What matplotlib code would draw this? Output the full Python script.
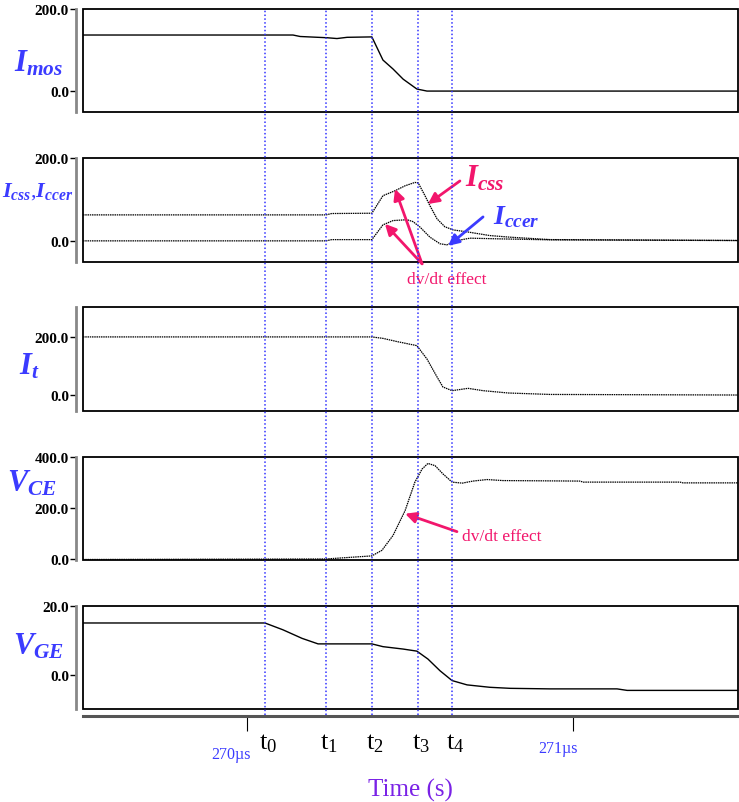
import matplotlib
matplotlib.use('Agg')
import matplotlib.pyplot as plt
from matplotlib.patches import Rectangle

plt.rcParams['font.family'] = ['Liberation Serif', 'DejaVu Serif']
plt.rcParams['mathtext.fontset'] = 'custom'
plt.rcParams['mathtext.it'] = 'Liberation Serif:italic:bold'
plt.rcParams['mathtext.rm'] = 'Liberation Serif'

# time in microseconds
t_events = [270.055, 270.242, 270.383, 270.525, 270.629]
t_names = ['0', '1', '2', '3', '4']

t_mos = [269.497, 270.141, 270.163, 270.245, 270.276, 270.307, 270.383, 270.417,
         270.448, 270.479, 270.521, 270.552, 271.506]
i_mos = [136.6, 136.6, 133, 130, 128, 131, 132, 75.6, 53.7, 29, 5, 0, 0]

t_css = [269.497, 270.242, 270.26, 270.383, 270.417, 270.454, 270.485, 270.515, 270.525,
         270.546, 270.561, 270.583, 270.607, 270.632, 270.675, 270.745, 270.807,
         270.929, 271.506]
i_css = [62.7, 62.7, 66, 66.7, 109, 121, 133, 141, 140, 109, 85, 53, 34, 26.5, 21.7,
         12.8, 8.9, 3.1, 1.0]

t_ccer = [269.497, 270.242, 270.26, 270.383, 270.417, 270.448, 270.491, 270.509, 270.531,
          270.561, 270.592, 270.613, 270.644, 270.684, 270.776, 270.929, 271.506]
i_ccer = [0, 0, 3, 3, 38.6, 49, 51, 46.5, 33, 9, -7, -9.6, 0.7, 6.5, 4.8, 2.5, 0.7]

t_it = [269.497, 270.383, 270.417, 270.460, 270.521, 270.552, 270.583, 270.601, 270.629,
        270.678, 270.724, 270.801, 270.929, 271.506]
i_t = [200, 200, 195, 184, 170, 124, 62, 27.6, 15, 23, 15, 7, 2, 0]

t_vce = [269.497, 270.242, 270.383, 270.414, 270.448, 270.485, 270.515, 270.537, 270.555,
         270.577, 270.601, 270.629, 270.660, 270.693, 270.736, 270.785, 271.021, 271.031,
         271.328, 271.337, 271.506]
v_ce = [0, 2, 14, 36, 94, 191, 302, 353, 375, 366, 334, 302, 298, 306, 312, 308, 306,
        302, 302, 299, 299]

t_vge = [269.497, 270.055, 270.110, 270.169, 270.218, 270.242, 270.383, 270.417, 270.479,
         270.521, 270.555, 270.592, 270.629, 270.675, 270.745, 270.807, 270.929, 271.135,
         271.166, 271.506]
v_ge = [15.07, 15.07, 13.1, 10.6, 9.0, 9.0, 9.0, 8.2, 7.5, 6.9, 4.6, 1.2, -1.65, -2.9,
        -3.6, -3.9, -4.06, -4.06, -4.5, -4.5]

xlim = (269.497, 271.506)
W, H = 739, 803
pink = '#f2166c'
blue = '#3b3bff'
dotted = (0, (1.2, 0.6))

fig = plt.figure(figsize=(W / 100, H / 100), dpi=100)


def fx(x):
    return x / W


def fy(y):
    return 1 - y / H


def panel(top, bottom, ylim, ticks, fmt='%.1f'):
    ax = fig.add_axes([fx(83), fy(bottom), fx(738) - fx(83), (bottom - top) / H])
    ax.set_xlim(*xlim)
    ax.set_ylim(*ylim)
    for s in ['top', 'right', 'bottom']:
        ax.spines[s].set_visible(False)
    ax.spines['left'].set_position(('outward', 5))
    ax.spines['left'].set_color('#888888')
    ax.spines['left'].set_linewidth(2)
    ax.add_patch(Rectangle((0, 0), 1, 1, transform=ax.transAxes, fill=False,
                           ec='black', lw=1.3, clip_on=False, zorder=3))
    ax.set_xticks([])
    ax.set_yticks(ticks)
    ax.set_yticklabels([fmt % v for v in ticks], fontsize=11, fontweight='bold')
    ax.tick_params(axis='y', length=4, width=1, pad=1)
    ax.patch.set_alpha(0)
    return ax


ax1 = panel(10, 113, (-51, 200), [0, 200])
ax1.plot(t_mos, i_mos, color='black', lw=1)

ax2 = panel(159, 263, (-51, 200), [0, 200])
ax2.plot(t_css, i_css, color='black', lw=0.9, ls=dotted)
ax2.plot(t_ccer, i_ccer, color='black', lw=0.9, ls=dotted)

ax3 = panel(308, 412, (-55, 303), [0, 200])
ax3.plot(t_it, i_t, color='black', lw=0.9, ls=dotted)

ax4 = panel(458, 561, (-2, 400), [0, 200, 400])
ax4.plot(t_vce, v_ce, color='black', lw=0.9, ls=dotted)

ax5 = panel(607, 710, (-9.9, 20), [0, 20])
ax5.plot(t_vge, v_ge, color='black', lw=1)

# annotations
arrow = dict(arrowstyle='-|>', color=pink, lw=2, mutation_scale=16, shrinkA=0, shrinkB=0)
ax2.annotate('', xy=(270.555, 89), xytext=(270.653, 144.6), arrowprops=arrow,
             annotation_clip=False)
ax2.text(270.669, 152, r'$I_{css}$', color=pink, fontsize=22, va='center', ha='left',
         clip_on=False)
ax2.annotate('', xy=(270.617, -12), xytext=(270.724, 57.8),
             arrowprops=dict(arrow, color=blue), annotation_clip=False)
ax2.text(270.755, 60, r'$I_{ccer}$', color=blue, fontsize=20, va='center', ha='left',
         clip_on=False)
ax2.annotate('', xy=(270.454, 125.3), xytext=(270.537, -55.4), arrowprops=arrow,
             annotation_clip=False)
ax2.annotate('', xy=(270.423, 41), xytext=(270.537, -55.4), arrowprops=arrow,
             annotation_clip=False)
ax2.text(270.613, -91, 'dv/dt effect', color=pink, fontsize=12.5, ha='center', va='center',
         clip_on=False)

ax4.annotate('', xy=(270.485, 178.6), xytext=(270.644, 108.7), arrowprops=arrow,
             annotation_clip=False)
ax4.text(270.660, 93, 'dv/dt effect', color=pink, fontsize=12.5, ha='left', va='center',
         clip_on=False)

# y labels
ylab = dict(color=blue, ha='left', va='center')
fig.text(fx(14), fy(64), r'$I_{mos}$', fontsize=22, **ylab)
fig.text(fx(2), fy(192), r'$I_{css}{,}I_{ccer}$', fontsize=16, **ylab)
fig.text(fx(19), fy(367), r'$I_t$', fontsize=22, **ylab)
fig.text(fx(7), fy(484), r'$V_{CE}$', fontsize=22, **ylab)
fig.text(fx(13), fy(647), r'$V_{GE}$', fontsize=22, **ylab)

# time axis
axt = fig.add_axes([fx(83), fy(717), fx(738) - fx(83), 1 / H])
axt.set_xlim(*xlim)
axt.set_ylim(0, 1)
for s in ['top', 'right', 'left']:
    axt.spines[s].set_visible(False)
axt.spines['bottom'].set_linewidth(2.2)
axt.spines['bottom'].set_color('#555555')
axt.set_yticks([])
axt.set_xticks([270, 271])
axt.set_xticklabels([])
axt.tick_params(axis='x', length=11, width=0.8, direction='out')
axt.patch.set_alpha(0)
axt.text(270.012, -38, '270\u00b5s', color=blue, fontsize=11.5, ha='right', va='center',
         transform=axt.get_xaxis_transform())
axt.text(271.016, -32, '271\u00b5s', color=blue, fontsize=11.5, ha='right', va='center',
         transform=axt.get_xaxis_transform())
for t, n in zip(t_events, t_names):
    axt.text(t + 0.01, -27, r'$\mathrm{t}_{\mathrm{%s}}$' % n, fontsize=19, ha='center',
             va='center', transform=axt.get_xaxis_transform())
fig.text(fx(410), fy(790), 'Time (s)', color='#7a22e6', fontsize=18, ha='center',
         va='center')

# event lines across all panels
axv = fig.add_axes([fx(83), fy(716), fx(738) - fx(83), (716 - 10) / H])
axv.set_xlim(*xlim)
axv.axis('off')
for t in t_events:
    axv.axvline(t, color='#3333ff', lw=1.1, ls=(0, (1, 1.5)))

fig.savefig('out.png', dpi=100)
